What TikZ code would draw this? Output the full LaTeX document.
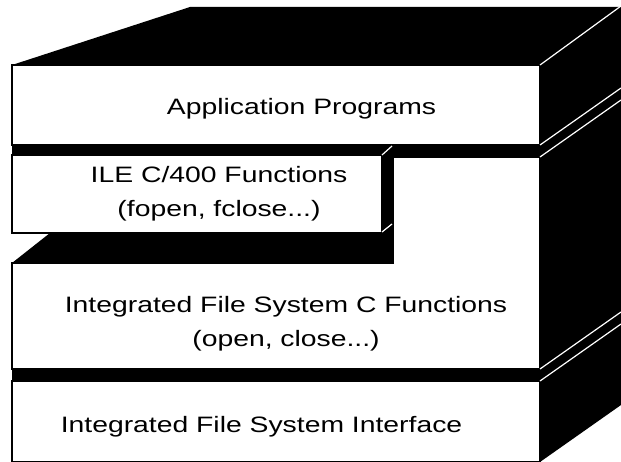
\documentclass[tikz,border=0pt]{standalone}
\usepackage{fontspec}
\setmainfont{Liberation Sans}[FakeStretch=1.27]
\begin{document}
\begin{tikzpicture}[x=1pt,y=-1pt,
		face/.style={draw=black, fill=white, line width=1.5pt},
		edge/.style={draw=white, line width=1.2pt},
		layertext/.style={align=center, anchor=base, font=\fontsize{22.3}{34}\selectfont}]
		\useasboundingbox (0,0) rectangle (621,462);
		\clip (0,0) rectangle (621,462);

		\fill [black] (12,65)--(190,7)--(621,7)--(621,405)--(540,462)--(12,462)
			--(12,263)--(50,233)--(12,233)--cycle;

		\filldraw [face] (12,65) rectangle (540,145);
		\filldraw [face] (12,155) rectangle (382,233);
		\filldraw [face] (393,157)--(540,157)--(540,369)--(12,369)--(12,263)--(393,263)--cycle;
		\filldraw [face] (12,381) rectangle (540,461.5);

		\draw [edge] (540,65)--(621,6);
		\draw [edge] (540,145)--(621,88);
		\draw [edge] (540,157)--(621,100);
		\draw [edge] (540,369)--(621,312);
		\draw [edge] (540,381)--(621,324);
		\draw [edge] (382,155)--(392,146);
		\draw [edge] (382,232)--(392,224);

		\node (app) [layertext] at (301.5,115) {Application Programs};
		\node (ile) [layertext] at (219,217) {ILE C/400 Functions\\(fopen, fclose...)};
		\node (ifsc) [layertext] at (286,346) {Integrated File System C Functions\\(open, close...)};
		\node (ifs) [layertext] at (261.5,432) {Integrated File System Interface};
	\end{tikzpicture}
\end{document}
